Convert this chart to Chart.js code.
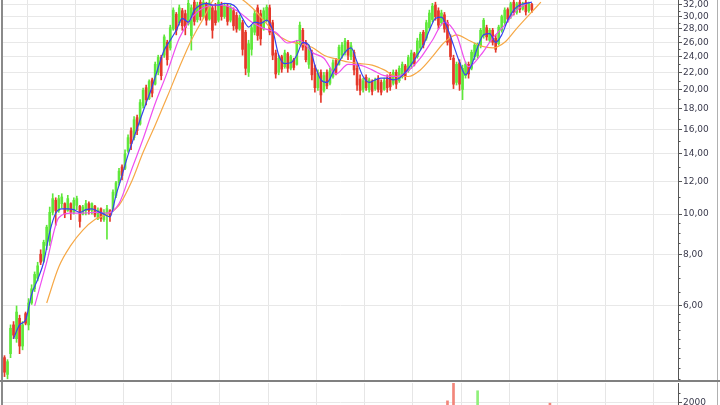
<!DOCTYPE html>
<html><head><meta charset="utf-8">
<script src="https://cdn.jsdelivr.net/npm/chart.js@4.4.1/dist/chart.umd.min.js"></script>
<style>
html,body{margin:0;padding:0;background:#fff;overflow:hidden;width:720px;height:405px;}
#p{position:absolute;left:0;top:0;}
#v{position:absolute;left:0;top:382px;}
</style></head><body>
<canvas id="p" width="720" height="382"></canvas>
<canvas id="v" width="720" height="98"></canvas>
<script>
// ---- data (one bar = one period, ~16 periods between vertical grid lines) ----
const openP = [4.5,4.1,4.6,5.4,5.0,5.6,4.8,5.75,5.4,6.1,6.6,7.0,8.0,7.7,8.4,8.6,
10.1,10.8,10.2,10.6,10.6,10.2,10.6,10.1,10.5,10.45,10.0,10.2,10.6,10.2,10.45,9.8,
10.3,9.7,10.0,10.2,10.2,11.1,11.9,13.0,12.9,14.2,15.9,15.3,17.1,16.5,18.3,20.2,
19.0,21.1,20.6,22.0,23.9,24.2,26.0,25.2,28.0,30.4,29.0,31.0,30.5,28.8,27.0,32.5,
29.5,32.5,30.0,32.2,29.6,31.5,31.0,29.4,32.0,30.0,31.8,29.4,31.0,30.2,28.0,29.0,
27.5,22.0,25.0,27.5,31.5,30.5,28.0,29.5,31.5,29.0,24.5,22.0,24.0,22.7,24.4,22.5,
23.6,23.0,26.0,27.8,26.0,23.0,24.6,22.5,20.2,22.0,19.9,22.0,20.7,21.5,23.5,23.0,
24.2,24.6,26.0,24.0,24.6,22.5,21.2,20.0,21.4,20.0,20.9,20.1,21.2,20.8,20.0,21.3,
21.7,20.7,22.0,21.0,21.6,22.8,22.2,23.0,24.4,24.0,25.2,27.5,26.6,28.2,29.5,32.0,
31.0,29.0,30.3,29.0,26.6,23.8,20.8,23.2,20.0,21.6,23.0,22.5,24.0,24.1,25.5,27.0,
28.2,26.3,27.8,26.6,25.8,27.8,29.0,31.2,30.0,32.5,30.7,32.5,31.3,32.5,31.0,32.1,
33.2,34.2,35.2,35.0,36.2,37.0];
const highP = [4.55,4.45,5.4,5.5,6.0,5.7,5.5,5.8,6.25,6.75,7.25,7.65,8.2,8.65,9.4,10.4,
11.2,10.95,11.1,11.2,10.65,11.1,10.65,10.95,11.05,10.5,10.5,10.8,10.7,10.65,10.5,10.35,
10.35,10.25,10.5,10.25,11.45,12.0,12.9,13.15,14.3,15.55,16.15,17.2,17.35,18.9,20.15,20.5,
21.1,21.3,23.3,24.2,24.2,27.1,26.3,28.6,31.5,30.7,32.0,31.4,31.1,32.9,32.0,33.2,
32.5,32.9,33.0,32.5,33.0,32.0,32.3,33.0,32.5,32.3,32.3,32.0,31.5,30.7,30.25,29.4,
27.8,26.3,28.6,31.1,32.0,31.1,31.5,32.0,32.0,29.4,24.9,24.2,24.2,24.9,24.6,24.2,
23.8,26.3,29.1,28.1,26.3,25.6,24.9,22.9,22.3,22.3,22.0,22.3,22.5,23.6,23.8,25.6,
26.0,26.6,26.3,26.0,24.9,22.9,21.7,21.3,21.7,21.3,21.1,21.3,21.6,21.1,21.3,21.7,
22.0,22.3,22.3,22.8,23.3,23.0,24.2,24.9,24.6,26.6,27.5,27.8,29.4,31.1,32.3,32.5,
31.5,31.1,30.7,29.4,27.1,24.2,23.3,23.6,22.9,23.3,23.3,24.9,25.9,25.9,28.1,29.7,
28.6,28.1,28.1,27.1,28.6,30.25,31.5,31.5,32.5,32.9,32.5,32.9,32.5,32.9,32.5,32.3,
34.5,35.5,36.0,36.5,37.5,37.2];
const lowP = [4.05,4.0,4.5,5.0,4.9,4.6,4.7,5.4,5.25,6.05,6.5,6.9,7.55,7.65,8.2,8.4,
9.95,9.4,10.1,10.35,9.8,10.15,9.7,10.0,10.25,9.3,9.95,9.95,10.0,10.0,9.85,9.7,
9.6,9.6,8.7,9.6,10.15,10.95,11.75,12.1,12.8,14.1,14.3,15.1,15.55,16.4,18.05,18.35,
18.9,19.2,20.5,21.7,21.1,23.9,22.9,24.9,27.8,27.1,28.6,27.8,27.1,28.6,24.9,28.6,
29.1,29.4,29.7,28.6,29.4,26.6,28.6,29.1,29.4,29.7,28.6,29.1,27.8,27.5,27.8,24.2,
21.7,21.5,24.2,27.1,26.3,25.6,27.8,29.1,27.1,23.6,21.3,21.7,22.0,22.5,22.0,22.3,
22.3,22.9,25.6,24.9,23.3,22.5,21.1,19.7,19.9,18.6,19.7,20.1,20.5,21.3,21.7,22.9,
23.8,24.2,23.6,23.6,21.7,19.9,19.4,19.7,19.9,19.7,19.4,19.9,19.7,19.4,19.9,19.7,
19.9,20.5,20.1,20.8,21.3,21.1,22.0,22.5,22.8,23.8,24.9,25.2,26.3,27.8,29.1,29.4,
28.0,28.6,27.5,25.6,23.6,20.1,20.5,19.9,18.9,21.3,21.3,22.3,23.6,23.8,25.2,26.6,
26.3,26.0,25.6,24.6,25.6,27.5,28.6,29.1,29.7,30.25,30.4,30.7,31.1,30.25,30.7,30.7,
33.0,33.8,34.5,34.6,35.8,35.5];
const closeP = [4.15,4.4,5.3,5.1,5.8,4.8,5.4,5.45,6.1,6.6,7.15,7.5,7.65,8.55,9.3,10.1,
10.9,10.2,10.9,11.0,10.0,10.9,10.1,10.8,10.9,9.6,10.4,10.6,10.2,10.6,9.95,10.2,
9.75,10.1,10.3,9.9,11.3,11.9,12.7,12.4,14.0,15.3,14.8,16.9,15.9,18.6,19.9,18.9,
20.9,19.6,23.0,23.9,21.6,26.8,23.6,28.2,31.1,27.8,31.5,28.5,28.2,32.3,31.5,29.2,
32.0,30.0,32.5,29.4,32.4,27.8,29.0,32.5,30.0,31.8,29.2,31.5,28.5,28.0,29.8,25.0,
22.5,25.8,28.2,30.5,27.0,26.5,31.0,31.6,27.5,24.2,21.8,23.8,22.4,24.5,22.5,24.0,
22.6,26.0,28.6,25.3,23.6,25.2,21.7,20.2,21.9,19.4,21.6,20.4,22.2,23.2,22.0,25.3,
25.6,26.2,24.2,25.5,22.3,20.5,19.9,21.0,20.2,21.1,19.8,21.0,20.0,19.7,21.0,20.2,
20.3,22.0,20.6,22.5,23.0,21.6,23.9,24.5,23.1,26.2,27.2,25.6,29.0,30.6,31.8,30.0,
28.6,30.6,28.0,26.0,24.0,20.6,23.0,20.6,22.5,23.0,21.8,24.6,25.6,25.7,27.8,29.4,
26.8,27.8,26.0,25.0,28.3,30.0,31.1,29.6,32.2,30.7,32.2,31.2,32.2,30.8,32.2,31.2,
34.2,35.2,35.0,36.2,37.0,35.8];
const volume = [900,1100,1300,800,1200,1000,700,600,1100,900,1000,800,700,900,1200,1400,
1300,1100,800,700,900,600,700,500,600,900,500,600,500,400,600,500,
500,400,900,500,800,900,1000,700,900,1100,1000,900,800,1100,1000,900,
800,700,1000,900,1100,1200,1300,1000,1400,1300,1100,1200,1000,1100,1500,1200,
1000,900,1000,1100,900,1300,1000,900,800,700,900,800,900,1000,800,1300,
1600,1400,1100,1000,1200,1100,900,800,1000,1300,1400,1000,900,800,900,700,
800,1000,1100,1000,1100,900,1200,1300,1000,1500,1100,900,800,700,800,900,
800,900,800,700,1100,1300,1200,800,700,600,700,600,700,800,600,700,
700,600,700,800,700,600,800,900,700,1000,1100,900,1200,1300,1200,1100,
1300,1000,1400,2040,1700,2650,1800,1600,1750,1200,1100,1300,1300,2300,1400,1300,
1100,1000,1100,1200,1100,1300,1200,1000,1100,1200,1000,1100,900,1200,1000,1100,
1200,1300,1100,1400,1300,1980];
// moving averages: fast sampled every 2 bars, mid/slow every 4 bars
const maFast = [null,5.0,5.4,5.55,6.4,6.95,7.65,9.05,10.05,10.3,
10.3,10.25,10.1,10.25,10.3,10.15,10.0,9.85,11.1,12.4,
13.9,15.35,16.9,18.55,20.3,22.6,24.9,26.3,27.8,29.7,
29.1,31.1,32.0,32.3,32.0,32.0,32.3,32.2,31.5,29.7,
28.3,29.1,28.9,29.4,27.8,24.2,23.1,23.2,24.2,26.0,
25.6,22.9,21.1,20.8,22.0,23.3,24.6,25.2,23.3,21.5,
20.8,21.1,21.3,21.3,21.1,21.3,22.0,23.0,24.2,25.6,
27.8,29.7,29.9,28.1,25.6,23.3,21.7,22.9,25.3,27.1,
27.3,26.0,27.1,29.4,31.1,32.0,32.3,32.5];
const maMid = [null,null,6.0,7.65,9.8,10.05,10.05,10.1,10.05,10.6,
12.7,15.2,18.5,22.0,26.6,29.7,31.5,32.0,31.8,30.7,
29.1,28.1,27.5,25.9,26.3,24.6,23.8,21.8,23.0,22.9,
22.3,21.6,21.5,22.2,23.8,26.3,29.1,27.1,22.7,24.2,
26.6,28.6,31.1,32.5];
const maSlow = [null,null,null,6.1,7.45,8.4,9.15,9.7,10.0,10.5,
11.9,14.1,16.4,19.2,22.6,26.3,29.7,33.4,34.0,33.3,
31.6,29.4,27.3,26.2,25.8,25.3,24.2,23.7,23.3,23.1,
22.9,22.3,21.5,21.5,22.3,24.0,26.0,27.1,26.3,25.5,
25.2,26.0,28.1,30.25,32.5];
const FAST_STEP = 2, FAST_START = 1, SLOW_STEP = 4, SLOW_START = 2;
const SLOTS = 224;
const periodLines = [0,16,32,48,64,80,96,112,128,144,160,176,192,208,224];
const priceTicks = [6,8,10,12,14,16,18,20,22,24,26,28,30,32];
const priceMinor = [4,4.25,4.5,4.75,5,5.25,5.5,5.75,6.5,7,7.5,8.5,9,9.5,11,13,15,17,19,21,23,25,27,29,31];
const PRICE_MIN = 3.93, PRICE_MAX = 32.9;
const volTicks = [1000,2000];
const volMinor = [1250,1500,1750,2250];
const VOL_MAX = 2500;

// ---- styling ----
const GREEN='#5fe83a', RED='#e5382a', VGREEN='#8ff07a', VRED='#f2867a';
const FONT = {family:'DejaVu Sans', size:9};
const LABEL = '#3a3a4c', AXIS = '#555';
const up = i => closeP[i] >= openP[i];
const X = i => i + 0.5;

const wickData = highP.map((h,i)=>({x:X(i), y:[lowP[i], h]}));
const bodyData = openP.map((o,i)=>({x:X(i), y:[o, closeP[i]]}));
const volData = volume.map((v,i)=>({x:X(i), y:v}));
const fastData = maFast.map((v,n)=>({x:X(FAST_START + n*FAST_STEP), y:v}));
const midData = maMid.map((v,n)=>({x:X(SLOW_START + n*SLOW_STEP), y:v}));
const slowData = maSlow.map((v,n)=>({x:X(SLOW_START + n*SLOW_STEP), y:v}));

function framePlugin(list, sep){
  return {id:'frame', afterDraw(c){
    const ctx=c.ctx, a=c.chartArea, ys=c.scales.y;
    ctx.save();
    ctx.strokeStyle=AXIS; ctx.lineWidth=1;
    list.forEach(v=>{ const y=Math.round(ys.getPixelForValue(v))+0.5;
      if(y<a.top||y>a.bottom) return;
      ctx.beginPath(); ctx.moveTo(a.right, y); ctx.lineTo(a.right+2.5, y); ctx.stroke(); });
    ctx.strokeStyle='#8a8a8a'; ctx.lineWidth=2;
    ctx.beginPath(); ctx.moveTo(a.left-1, 0); ctx.lineTo(a.left-1, c.height); ctx.stroke();
    ctx.strokeStyle='#b0b0b0'; ctx.lineWidth=1;
    ctx.beginPath(); ctx.moveTo(c.width-2.5, 0); ctx.lineTo(c.width-2.5, c.height); ctx.stroke();
    if(sep){ ctx.strokeStyle='#808080'; ctx.lineWidth=2;
      ctx.beginPath(); ctx.moveTo(0, c.height-1); ctx.lineTo(c.width, c.height-1); ctx.stroke(); }
    ctx.restore();
  }};
}
function fixY(s){ s.width=42; s.paddingTop=0; s.paddingBottom=0; }

const xScale = {type:'linear', min:0, max:SLOTS, offset:false,
  afterBuildTicks:s=>{ s.ticks = periodLines.map(v=>({value:v})); },
  ticks:{display:false}, grid:{color:'#e6e6e6', drawTicks:false}, border:{display:false},
  afterFit:s=>{ s.height=0; s.paddingLeft=0; s.paddingRight=0; }};

new Chart(document.getElementById('p'), {
  type:'bar',
  data:{datasets:[
    {type:'line', data:fastData, borderColor:'#3444ee', borderWidth:1.2, pointRadius:0, cubicInterpolationMode:'monotone', order:0, clip:0},
    {type:'line', data:midData, borderColor:'#ef4fef', borderWidth:1.2, pointRadius:0, cubicInterpolationMode:'monotone', order:1, clip:0},
    {type:'line', data:slowData, borderColor:'#f6a846', borderWidth:1.2, pointRadius:0, cubicInterpolationMode:'monotone', order:2, clip:0},
    {type:'bar', data:bodyData, backgroundColor:c=>up(c.dataIndex)?GREEN:RED, barThickness:2, grouped:false, order:3, clip:0},
    {type:'bar', data:wickData, backgroundColor:c=>up(c.dataIndex)?GREEN:RED, barThickness:1, grouped:false, order:4, clip:0}
  ]},
  options:{responsive:false, animation:false, events:[],
    layout:{padding:{left:3,right:0,top:0,bottom:0}},
    plugins:{legend:{display:false}, tooltip:{enabled:false}},
    scales:{
      x:xScale,
      y:{type:'logarithmic', position:'right', min:PRICE_MIN, max:PRICE_MAX, bounds:'data',
        afterBuildTicks:s=>{ s.ticks = priceTicks.map(v=>({value:v})); },
        ticks:{autoSkip:false, font:FONT, color:LABEL, padding:1,
          callback:v=>Number(v).toFixed(2).replace('.',',')},
        grid:{color:'#e8e8e8', tickColor:AXIS, tickLength:4},
        border:{color:AXIS, width:1},
        afterFit:fixY}
    }},
  plugins:[framePlugin(priceMinor, true)]
});

new Chart(document.getElementById('v'), {
  type:'bar',
  data:{datasets:[
    {data:volData, backgroundColor:c=>up(c.dataIndex)?VGREEN:VRED, barThickness:2, clip:0}
  ]},
  options:{responsive:false, animation:false, events:[],
    layout:{padding:{left:3,right:0,top:1,bottom:0}},
    plugins:{legend:{display:false}, tooltip:{enabled:false}},
    scales:{
      x:Object.assign({}, xScale),
      y:{type:'linear', position:'right', min:0, max:VOL_MAX,
        afterBuildTicks:s=>{ s.ticks = volTicks.map(v=>({value:v})); },
        ticks:{autoSkip:false, font:FONT, color:LABEL, padding:1, callback:v=>String(v)},
        grid:{color:'#e8e8e8', tickColor:AXIS, tickLength:4},
        border:{color:AXIS, width:1},
        afterFit:fixY}
    }},
  plugins:[framePlugin(volMinor, false)]
});
</script>
</body></html>
